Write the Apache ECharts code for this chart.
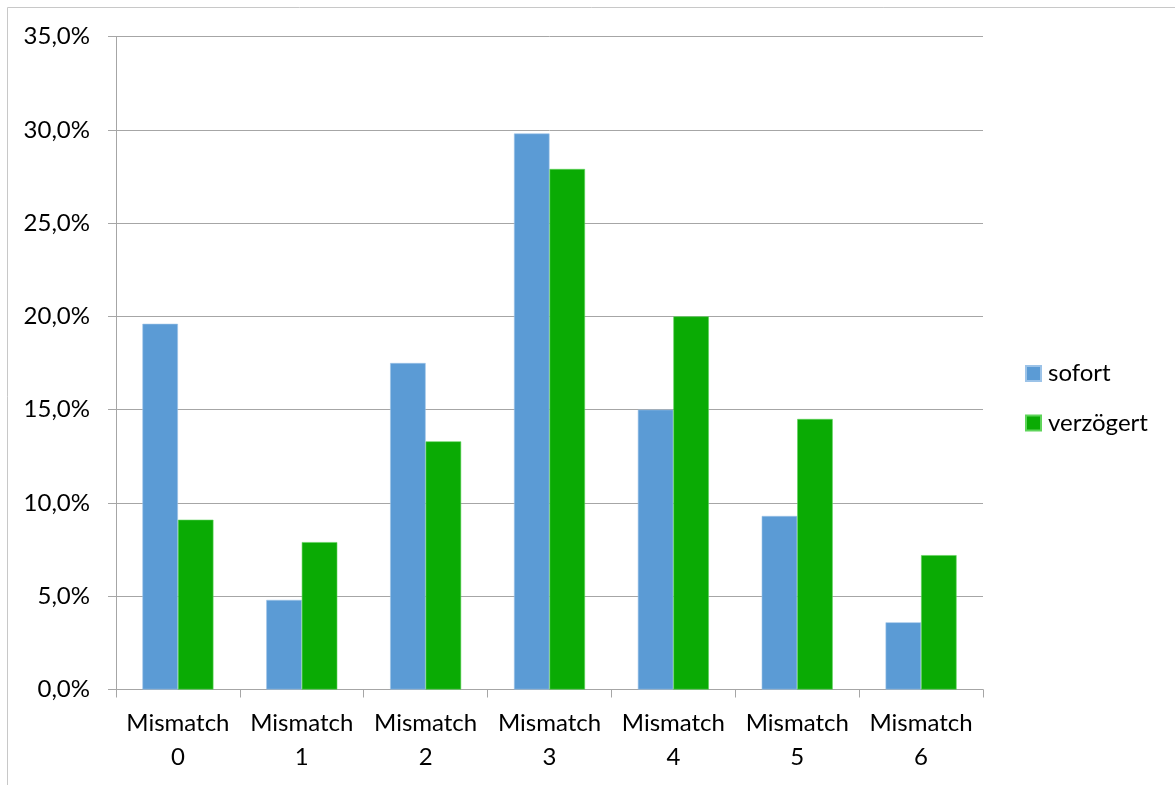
<!DOCTYPE html>
<html>
<head>
<meta charset="utf-8">
<script src="https://cdn.jsdelivr.net/npm/echarts@6/dist/echarts.min.js"></script>
<style>
  html, body { margin: 0; padding: 0; background: #fff; }
  #chart { width: 1175px; height: 785px; }
</style>
</head>
<body>
<div id="chart"></div>
<script>
// Category labels (two lines each)
const categories = ['Mismatch\n0', 'Mismatch\n1', 'Mismatch\n2', 'Mismatch\n3', 'Mismatch\n4', 'Mismatch\n5', 'Mismatch\n6'];
// Share of cases in percent
const sofort = [19.6, 4.8, 17.5, 29.8, 15.0, 9.3, 3.6];
const verzoegert = [9.1, 7.9, 13.3, 27.9, 20.0, 14.5, 7.2];
const seriesNames = ['sofort', 'verzögert'];

const FONT = 'Lato, "Open Sans", sans-serif';
const GRID_COLOR = '#a6a6a6';

const chart = echarts.init(document.getElementById('chart'), null, { renderer: 'canvas' });

chart.setOption({
  animation: false,
  backgroundColor: '#ffffff',
  textStyle: { fontFamily: FONT },
  graphic: [{
    type: 'rect',
    shape: { x: 7.5, y: 7.5, width: 1250, height: 850 },
    style: { fill: 'none', stroke: '#c8c8c8', lineWidth: 1 },
    silent: true,
    z: -1
  }],
  grid: { left: 116, right: 192, top: 36.5, bottom: 95.5, containLabel: false },
  legend: {
    orient: 'vertical',
    left: 1025,
    top: 361.5,
    padding: 0,
    itemWidth: 15,
    itemHeight: 15,
    itemGap: 25.5,
    icon: 'rect',
    textStyle: { fontSize: 24, color: '#000', fontFamily: FONT, padding: [0, 0, 0, 2] },
    data: seriesNames
  },
  xAxis: {
    type: 'category',
    data: categories,
    axisLine: { lineStyle: { color: GRID_COLOR, width: 1 } },
    axisTick: { show: true, length: 8, alignWithLabel: false, lineStyle: { color: GRID_COLOR } },
    axisLabel: { fontSize: 24, color: '#000', lineHeight: 34, margin: 16.5, fontFamily: FONT, interval: 0 },
    splitLine: { show: false }
  },
  yAxis: {
    type: 'value',
    min: 0,
    max: 35,
    interval: 5,
    axisLine: { show: true, lineStyle: { color: GRID_COLOR, width: 1 } },
    axisTick: { show: true, length: 8, lineStyle: { color: GRID_COLOR } },
    axisLabel: {
      fontSize: 24, color: '#000', margin: 26, fontFamily: FONT,
      formatter: v => v.toFixed(1).replace('.', ',') + '%'
    },
    splitLine: { show: true, lineStyle: { color: GRID_COLOR, width: 1 } }
  },
  series: [
    {
      name: seriesNames[0],
      type: 'bar',
      data: sofort,
      barWidth: 35.5,
      barGap: '0%',
      itemStyle: { color: '#5b9bd5', borderColor: '#9cc3e8', borderWidth: 0.6 }
    },
    {
      name: seriesNames[1],
      type: 'bar',
      data: verzoegert,
      barWidth: 35.5,
      itemStyle: { color: '#0aab04', borderColor: '#5ed45a', borderWidth: 0.6 }
    }
  ]
});
</script>
</body>
</html>
